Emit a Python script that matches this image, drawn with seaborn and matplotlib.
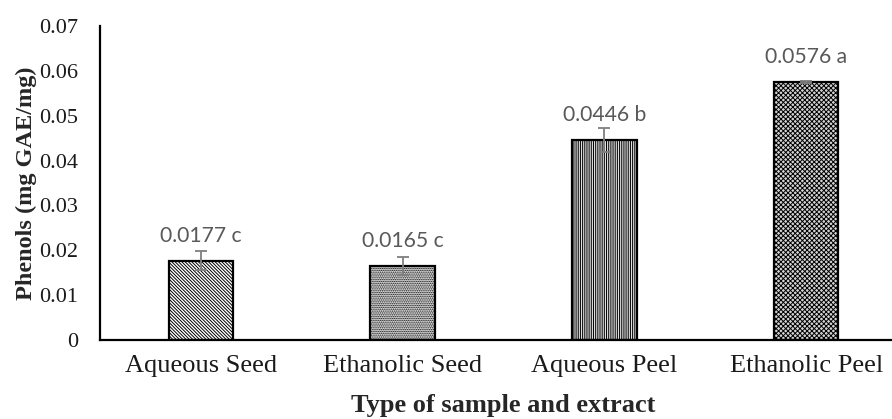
import matplotlib
matplotlib.use("Agg")
import matplotlib.pyplot as plt
import seaborn as sns
import pandas as pd

categories = ["Aqueous Seed", "Ethanolic Seed", "Aqueous Peel", "Ethanolic Peel"]
phenols = [0.0177, 0.0165, 0.0446, 0.0576]
errors = [0.0021, 0.0019, 0.0026, 0.0002]
letters = ["c", "c", "b", "a"]
yticks = [0, 0.01, 0.02, 0.03, 0.04, 0.05, 0.06, 0.07]
ytick_labels = ["0", "0.01", "0.02", "0.03", "0.04", "0.05", "0.06", "0.07"]

sns.set_style("white")
plt.rcParams["hatch.linewidth"] = 0.7

df = pd.DataFrame({"cat": categories, "val": phenols})

fig = plt.figure(figsize=(8.92, 4.19), dpi=100)
ax = fig.add_axes([100 / 892, 79 / 419, 807 / 892, 314 / 419])

sns.barplot(data=df, x="cat", y="val", width=0.32, color="white",
            edgecolor="black", linewidth=1.6, saturation=1, ax=ax)

hatches = ["\\" * 10, "." * 9, "|" * 9, "x" * 7]
faces = ["white", "#e8e8e8", "white", "#d4d4d4"]
for p, h, fc in zip(ax.patches, hatches, faces):
    p.set_hatch(h)
    p.set_facecolor(fc)

centers = [p.get_x() + p.get_width() / 2 for p in ax.patches]
ax.errorbar(centers, phenols, yerr=errors, fmt="none", ecolor="#7f7f7f",
            elinewidth=1.3, capsize=4.5, capthick=1.3, zorder=5)

for x, v, l in zip(centers, phenols, letters):
    ax.annotate(f"{v} {l}", xy=(x, v), xytext=(0, 18), textcoords="offset points",
                ha="center", va="center", fontsize=15.2, color="#595959",
                family="Lato")

ax.set_xlim(-0.5, 3.5)
ax.set_ylim(0, 0.07)
ax.set_yticks(yticks)
ax.set_yticklabels(ytick_labels, family="Liberation Serif", fontsize=16, color="#1a1a1a")
ax.tick_params(axis="y", length=0, pad=16)
ax.tick_params(axis="x", length=0, pad=11)
for t in ax.get_xticklabels():
    t.set_family("Liberation Serif")
    t.set_fontsize(19)
    t.set_color("#1a1a1a")

ax.set_xlabel("Type of sample and extract", family="Liberation Serif",
              fontsize=19, fontweight="bold", labelpad=12)
ax.set_ylabel("Phenols (mg GAE/mg)", family="Liberation Serif",
              fontsize=17.5, fontweight="bold", labelpad=1)

for s in ["top", "right"]:
    ax.spines[s].set_visible(False)
for s in ["left", "bottom"]:
    ax.spines[s].set_color("black")
    ax.spines[s].set_linewidth(1.6)

fig.savefig("out.png", dpi=100)
